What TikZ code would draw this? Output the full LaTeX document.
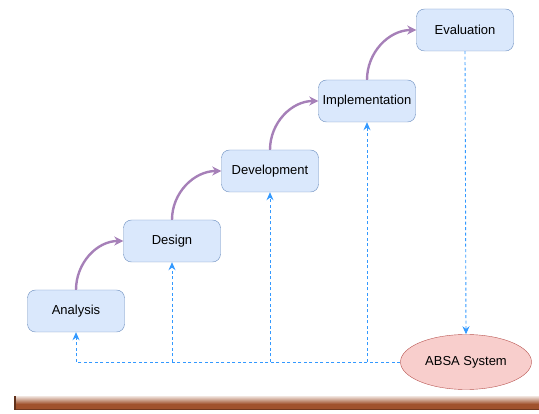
\documentclass[tikz,border=0pt]{standalone}
\usepackage{fontspec}
\setmainfont{Liberation Sans}
\usetikzlibrary{arrows.meta,shapes.geometric}

\definecolor{stagefill}{HTML}{DAE8FC}
\definecolor{stageline}{HTML}{6C8EBF}
\definecolor{sysfill}{HTML}{F8CECC}
\definecolor{sysline}{HTML}{B85450}
\definecolor{flowline}{HTML}{A680B8}
\definecolor{feedline}{HTML}{3399FF}
\definecolor{barbrown}{HTML}{A0522D}

\tikzset{
  stage/.style={draw=stageline,fill=stagefill,rounded corners=8pt,minimum width=97pt,minimum height=42pt,font=\fontsize{13}{15}\selectfont},
  system/.style={ellipse,draw=sysline,fill=sysfill,minimum width=131pt,minimum height=55pt,font=\fontsize{13}{15}\selectfont},
  flow/.style={draw=flowline,line width=2.4pt,-{Stealth[length=9pt,width=9pt]}},
  feed/.style={draw=feedline,line width=0.9pt,dash pattern=on 3pt off 2.5pt,-{Stealth[length=8pt,width=7pt]}}
}

\begin{document}
\begin{tikzpicture}[x=1pt,y=1pt]% [ show background grid ]
\useasboundingbox (0,0) rectangle (539,413);

\shade[top color=barbrown!15,bottom color=barbrown] (14,9) rectangle (539,17);
\fill[barbrown] (14,4) rectangle (539,9);
\fill[barbrown!70!black] (14,3) rectangle (539,4.5);
\fill[barbrown!60!black] (14,3) rectangle (16,17);

\node[stage] (analysis) at (76,102) {Analysis};
\node[stage] (design) at (172,172) {Design};
\node[stage] (development) at (270,242) {Development};
\node[stage] (implementation) at (367,312) {Implementation};
\node[stage] (evaluation) at (465,383) {Evaluation};

\node[system] (absa) at (466,51) {ABSA System};

\draw[flow] (analysis.north) to[out=90,in=180] (design.west);
\draw[flow] (design.north) to[out=90,in=180] (development.west);
\draw[flow] (development.north) to[out=90,in=180] (implementation.west);
\draw[flow] (implementation.north) to[out=90,in=180] (evaluation.west);

\draw[feed] (evaluation.south) -- (absa.north);
\coordinate (corner) at (analysis.south |- absa.west);
\draw[feed] (absa.west) -- (corner) -- (analysis.south);
\draw[feed] (design.south |- absa.west) -- (design.south);
\draw[feed] (development.south |- absa.west) -- (development.south);
\draw[feed] (implementation.south |- absa.west) -- (implementation.south);
\end{tikzpicture}
\end{document}
